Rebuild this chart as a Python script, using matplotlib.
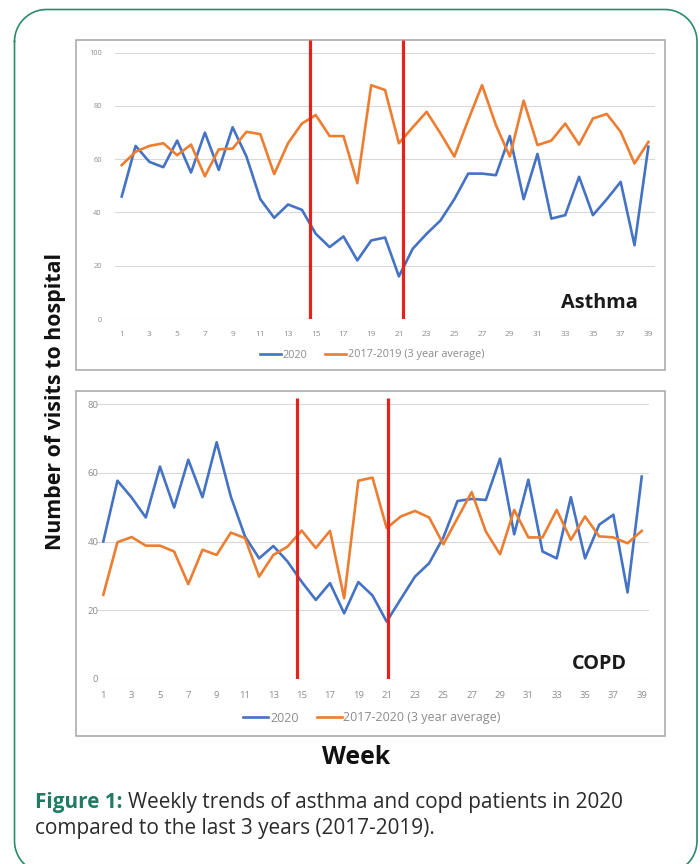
import matplotlib
matplotlib.use('Agg')
import numpy as np
import matplotlib.pyplot as plt
from matplotlib.patches import Rectangle

plt.rcParams['font.family'] = ['Open Sans', 'DejaVu Sans']

weeks = list(range(1, 40))
tick_weeks = list(range(1, 40, 2))

asthma_2020 = [46, 65, 59, 57, 67, 55, 70, 56, 72, 61, 45, 38, 43, 41, 32, 27, 31, 22, 29.5, 30.6,
               16, 26.4, 32, 37, 45, 54.6, 54.6, 54, 68.7, 45, 62, 37.7, 39, 53.4, 39, 45, 51.5, 27.7, 64.7]
asthma_avg = [57.8, 62.8, 65, 66, 61.5, 65.5, 53.6, 63.7, 64, 70.3, 69.4, 54.4, 66, 73.4, 76.6, 68.7, 68.7, 51, 87.8, 86,
              66, 72, 77.8, 69.7, 61, 74.7, 87.8, 72.8, 61, 82, 65.3, 67, 73.4, 65.5, 75.3, 77, 70.3, 58.4, 66.5]
copd_2020 = [40, 57.7, 52.8, 47, 61.8, 49.9, 63.8, 52.9, 68.9, 53.1, 41.5, 35.1, 38.7, 34.2, 28.3, 23, 27.9, 19.1, 28.2, 24.3,
             16.7, 23.3, 29.8, 33.7, 41.2, 51.8, 52.4, 52.1, 64.1, 42.1, 58, 37.1, 35.1, 52.9, 35.1, 44.9, 47.8, 25.2, 58.9]
copd_avg = [24.5, 39.8, 41.3, 38.8, 38.8, 37.1, 27.6, 37.6, 36.1, 42.6, 41, 29.8, 36.1, 38.5, 43.2, 38.1, 43.1, 23.5, 57.7, 58.6,
            43.9, 47.3, 48.9, 47, 39.2, 46.8, 54.4, 42.9, 36.3, 49.2, 41.2, 41.2, 49.2, 40.5, 47.3, 41.5, 41.2, 39.5, 43.1]

# lockdown markers (weeks)
asthma_marks = [14.6, 21.3]
copd_marks = [14.7, 21.1]

BLUE = '#4472c4'
ORANGE = '#ed7d31'
RED = '#e3231c'
TEAL = '#1f7c63'
W, H = 700, 864

fig = plt.figure(figsize=(7, 8.64), dpi=100)
renderer = fig.canvas.get_renderer()


def fit_width(t, target, vertical=False):
    # scale a text's font size so it spans `target` pixels
    for _ in range(3):
        bb = t.get_window_extent(renderer)
        size = bb.height if vertical else bb.width
        t.set_fontsize(t.get_fontsize() * target / size)
    return t


# background layer in pixel coordinates
bg = fig.add_axes([0, 0, 1, 1], zorder=-1)
bg.set_xlim(0, W)
bg.set_ylim(H, 0)
bg.axis('off')

# rounded page frame
x0, x1, y0, y1, r = 14.5, 697, 9.5, 873, 32
a = np.linspace(0, np.pi / 2, 20)
fx = np.concatenate([x0 + r - r * np.cos(a), x1 - r + r * np.sin(a),
                     x1 - r + r * np.cos(a), x0 + r - r * np.sin(a), [x0]])
fy = np.concatenate([y0 + r - r * np.sin(a), y0 + r - r * np.cos(a),
                     y1 - r + r * np.sin(a), y1 - r + r * np.cos(a), [y0 + r]])
bg.plot(fx, fy, color='#2a8a6e', linewidth=1.2, clip_on=False)

bg.add_patch(Rectangle((76, 40), 589, 330, fill=False, edgecolor='#a6a6a6', linewidth=1.1))
bg.add_patch(Rectangle((76, 391), 589, 345, fill=False, edgecolor='#a6a6a6', linewidth=1.1))


def px_axes(left, right, top, bottom):
    return fig.add_axes([left / W, 1 - bottom / H, (right - left) / W, (bottom - top) / H])


def panel(ax, s2020, savg, ytop, yticks, marks, mark_top, tick_fs, ytick_fs, ypad,
          avg_label, leg_y, leg_fs, hlen, cspace):
    for y in yticks:
        ax.axhline(y, color='#d9d9d9', linewidth=0.8, zorder=0)
    ax.plot(weeks, s2020, color=BLUE, linewidth=1.9, label='2020', zorder=3)
    ax.plot(weeks, savg, color=ORANGE, linewidth=1.9, label=avg_label, zorder=3)
    for m in marks:
        ax.vlines(m, 0, mark_top, color=RED, linewidth=2.3, zorder=4)
    ax.set_xlim(0.5, 39.5)
    ax.set_ylim(0, ytop)
    ax.set_xticks(tick_weeks)
    ax.set_yticks(yticks)
    ax.tick_params(axis='x', length=0, pad=8.5, labelsize=tick_fs, labelcolor='#8c8c8c')
    ax.tick_params(axis='y', length=0, pad=ypad, labelsize=ytick_fs, labelcolor='#8c8c8c')
    for s in ax.spines.values():
        s.set_visible(False)
    ax.patch.set_alpha(0)
    leg = ax.legend(loc='center', bbox_to_anchor=(372 / W, 1 - leg_y / H), bbox_transform=fig.transFigure,
                    ncol=2, frameon=False, fontsize=leg_fs, handlelength=hlen, handletextpad=0.15,
                    columnspacing=cspace, borderpad=0)
    for t in leg.get_texts():
        t.set_color('#8c8c8c')
    return ax


ax1 = px_axes(114.8, 655.3, 40, 319)
panel(ax1, asthma_2020, asthma_avg, 104.77, [0, 20, 40, 60, 80, 100], asthma_marks, 104.77,
      6.0, 5.3, 9.4, '2017-2019 (3 year average)', 355, 7.8, 1.95, 1.66)
t = ax1.text(638 / W, 1 - 303 / H, 'Asthma', transform=fig.transFigure, ha='right', va='center',
             fontsize=13, fontweight='bold', color='#1a1a1a')
fit_width(t, 77)

ax2 = px_axes(96.2, 648.8, 391, 679)
panel(ax2, copd_2020, copd_avg, 83.8, [0, 20, 40, 60, 80], copd_marks, 81.7,
      6.8, 6.8, -1.5, '2017-2020 (3 year average)', 718, 9.0, 2.0, 1.44)
t = ax2.text(627 / W, 1 - 664 / H, 'COPD', transform=fig.transFigure, ha='right', va='center',
             fontsize=12.5, fontweight='bold', color='#1a1a1a')
fit_width(t, 55)

t = fig.text(56 / W, 1 - 401 / H, 'Number of visits to hospital', rotation=90, ha='center', va='center',
             fontsize=14, fontweight='bold', color='#111111')
fit_width(t, 297, vertical=True)
t = fig.text(356 / W, 1 - 757 / H, 'Week', ha='center', va='center',
             fontsize=14.5, fontweight='bold', color='#111111')
fit_width(t, 68)

# caption, first line fitted to the frame width
lead = bg.text(35, 808, 'Figure 1:', ha='left', va='baseline', fontsize=14, fontweight='bold', color=TEAL)
rest = bg.annotate('Weekly trends of asthma and copd patients in 2020', xy=(1, 0), xycoords=lead,
                   xytext=(4, 0), textcoords='offset points', ha='left', va='bottom',
                   fontsize=14, color='#2b2b2b', annotation_clip=False)
for _ in range(3):
    total = rest.get_window_extent(renderer).x1 - lead.get_window_extent(renderer).x0
    fs = lead.get_fontsize() * 590 / total
    lead.set_fontsize(fs)
    rest.set_fontsize(fs)
bg.text(35, 834, 'compared to the last 3 years (2017-2019).', ha='left', va='baseline',
        fontsize=lead.get_fontsize(), color='#2b2b2b')

fig.savefig('out.png', dpi=100)
